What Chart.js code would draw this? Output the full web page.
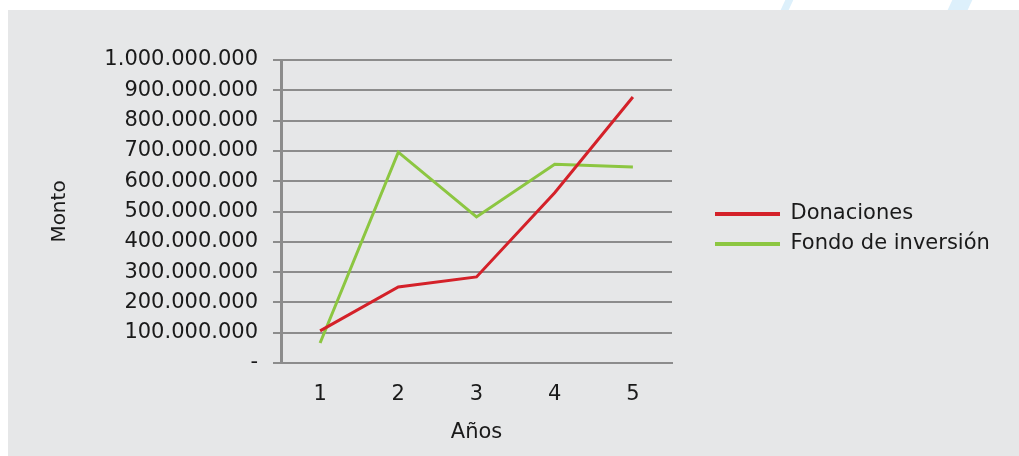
<!DOCTYPE html>
<html lang="es">
<head>
  <meta charset="UTF-8">
  <title>Donaciones vs Fondo de inversión</title>
  <script src="https://cdn.jsdelivr.net/npm/chart.js"></script>
  <style>
    body { margin: 0; background: #fff; width: 1019px; height: 456px; overflow: hidden; position: relative; }
    .deco { position: absolute; top: -10px; height: 30px; background: #ddf0fb; transform: skewX(-25deg); }
    #panel { position: absolute; left: 8px; top: 10px; width: 1011px; height: 446px; background: #e6e7e8; }
  </style>
</head>
<body>
  <div class="deco" style="left:783px; width:8px;"></div>
  <div class="deco" style="left:950px; width:20px;"></div>
  <div id="panel"><canvas id="montoChart"></canvas></div>

  <script>
    const years = ['1', '2', '3', '4', '5'];
    const donaciones = [106000000, 251000000, 284000000, 562000000, 878000000];
    const fondoInversion = [66000000, 696000000, 482000000, 656000000, 647000000];
    const seriesNames = ['Donaciones', 'Fondo de inversión'];

    const fontFamily = '"DejaVu Sans", sans-serif';
    const gridColor = '#8c8c8c';

    function formatMonto(value) {
      if (value === 0) return '-';
      return String(value).replace(/\B(?=(\d{3})+(?!\d))/g, '.');
    }

    // the legend box is kept narrow for layout, then moved and widened
    const legendShift = {
      id: 'legendShift',
      afterLayout(chart) {
        const lg = chart.legend;
        lg.left = chart.chartArea.right + 34;
        lg.right = chart.width;
        lg.width = lg.right - lg.left;
        lg.top = 0;
        lg.bottom = 438;
        lg.height = lg.bottom - lg.top;
      }
    };

    const ctx = document.getElementById('montoChart').getContext('2d');
    new Chart(ctx, {
      type: 'line',
      data: {
        labels: years,
        datasets: [
          {
            label: seriesNames[0],
            data: donaciones,
            borderColor: '#d42129',
            backgroundColor: '#d42129',
            borderWidth: 3,
            pointRadius: 0,
            tension: 0
          },
          {
            label: seriesNames[1],
            data: fondoInversion,
            borderColor: '#8cc641',
            backgroundColor: '#8cc641',
            borderWidth: 3,
            pointRadius: 0,
            tension: 0
          }
        ]
      },
      options: {
        responsive: true,
        maintainAspectRatio: false,
        animation: false,
        layout: { padding: { top: 50, right: 147, bottom: 0, left: 0 } },
        plugins: {
          tooltip: { enabled: false },
          legend: {
            position: 'right',
            align: 'center',
            maxWidth: 200,
            labels: {
              color: '#1a1a1a',
              font: { family: fontFamily, size: 21 },
              boxWidth: 65,
              boxHeight: 4,
              padding: 9,
              generateLabels(chart) {
                const items = Chart.defaults.plugins.legend.labels.generateLabels(chart);
                items.forEach(item => { item.lineWidth = 0; });
                return items;
              }
            }
          }
        },
        scales: {
          x: {
            offset: true,
            grid: { display: false },
            border: { display: true, color: gridColor, width: 2 },
            ticks: {
              color: '#1a1a1a',
              font: { family: fontFamily, size: 21 },
              padding: 11
            },
            title: {
              display: true,
              text: 'Años',
              color: '#1a1a1a',
              font: { family: fontFamily, size: 21 },
              padding: { top: 0, bottom: 11 }
            },
            afterFit(scale) { scale.height = 93; }
          },
          y: {
            min: 0,
            max: 1000000000,
            grid: {
              color: gridColor,
              lineWidth: 2,
              tickLength: 8,
              drawTicks: true
            },
            border: { display: true, color: gridColor, width: 3 },
            ticks: {
              stepSize: 100000000,
              color: '#1a1a1a',
              font: { family: fontFamily, size: 21 },
              padding: 15,
              callback: value => formatMonto(value)
            },
            title: {
              display: true,
              text: 'Monto',
              color: '#1a1a1a',
              font: { family: fontFamily, size: 20 },
              padding: { top: 40, bottom: 0 }
            },
            afterFit(scale) { scale.width = 273; }
          }
        }
      },
      plugins: [legendShift]
    });
  </script>
</body>
</html>
